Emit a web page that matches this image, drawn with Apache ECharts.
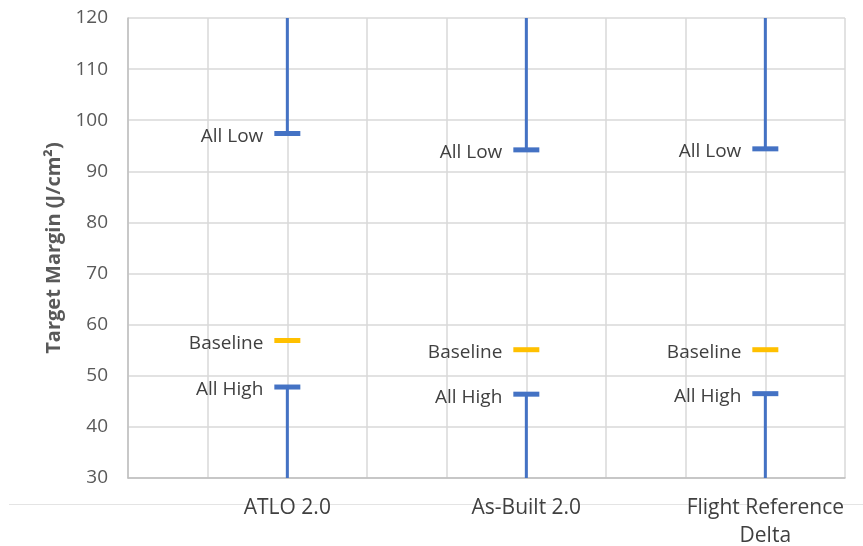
<!DOCTYPE html>
<html>
<head>
<meta charset="utf-8">
<script src="https://cdn.jsdelivr.net/npm/echarts@6/dist/echarts.min.js"></script>
<style>
  html, body { margin: 0; padding: 0; background: #ffffff; }
  #chart { width: 863px; height: 546px; }
</style>
</head>
<body>
<div id="chart"></div>
<script>
// Target margin cases per configuration (J/cm²)
var categories = ['ATLO 2.0', 'As-Built 2.0', 'Flight Reference\nDelta'];
var allLow   = [97.4, 94.2, 94.4];
var baseline = [56.9, 55.1, 55.1];
var allHigh  = [47.8, 46.4, 46.5];
var yTicks = { min: 30, max: 120, step: 10 };

// each configuration sits in the middle of a three-slot band on the x scale
function slotOf(i) { return 2 + 3 * i; }
function pairs(values) { return values.map(function (v, i) { return [slotOf(i), v]; }); }

var BLUE = '#4472C4';
var GOLD = '#FFC000';
var FONT = '"Open Sans", "Noto Sans", sans-serif';

// vertical stem from a case marker out to the edge of the plot
function stem(direction) {
  return function (params, api) {
    var p = api.coord([api.value(0), api.value(1)]);
    var cs = params.coordSys;
    var yEnd = direction > 0 ? cs.y : cs.y + cs.height;
    return {
      type: 'line',
      shape: { x1: p[0], y1: p[1], x2: p[0], y2: yEnd },
      style: { stroke: BLUE, lineWidth: 3 }
    };
  };
}

function caseMarks(name, values, color) {
  return {
    name: name,
    type: 'scatter',
    data: pairs(values),
    symbol: 'rect',
    symbolSize: [26, 5],
    itemStyle: { color: color, opacity: 1 },
    label: {
      show: true,
      position: 'left',
      distance: 11,
      offset: [0, 3],
      formatter: name,
      color: '#404040',
      fontFamily: FONT,
      fontSize: 19
    },
    z: 5,
    silent: true
  };
}

var chart = echarts.init(document.getElementById('chart'), null, { renderer: 'canvas' });
chart.setOption({
  animation: false,
  backgroundColor: '#ffffff',
  grid: { left: 128, right: 18, top: 18, bottom: 68, containLabel: false, outerBoundsMode: 'none' },
  xAxis: {
    type: 'value',
    min: 0,
    max: 3 * categories.length,
    interval: 1,
    axisLine: { show: true, lineStyle: { color: '#bfbfbf', width: 1.5 } },
    axisTick: { show: false },
    splitLine: { show: true, lineStyle: { color: '#d9d9d9', width: 1.5 } },
    axisLabel: {
      margin: 16,
      color: '#404040',
      fontFamily: FONT,
      fontSize: 21,
      lineHeight: 28,
      showMinLabel: true,
      showMaxLabel: true,
      formatter: function (v) {
        var i = (v - 2) / 3;
        return (i === Math.round(i) && i >= 0 && i < categories.length) ? categories[i] : '';
      }
    }
  },
  yAxis: {
    type: 'value',
    min: yTicks.min,
    max: yTicks.max,
    interval: yTicks.step,
    name: 'Target Margin (J/cm²)',
    nameLocation: 'middle',
    nameGap: 59,
    nameTextStyle: { color: '#595959', fontFamily: FONT, fontSize: 20, fontWeight: 'bold' },
    axisLine: { show: true, lineStyle: { color: '#bfbfbf', width: 1.5 } },
    axisTick: { show: false },
    splitLine: { show: true, lineStyle: { color: '#d9d9d9', width: 1.5 } },
    axisLabel: { margin: 20, color: '#595959', fontFamily: FONT, fontSize: 19 }
  },
  graphic: [{
    type: 'line',
    shape: { x1: 9, y1: 504.5, x2: 863, y2: 504.5 },
    style: { stroke: '#e4e4e4', lineWidth: 1 },
    z: -1,
    silent: true
  }],
  series: [
    { type: 'custom', name: 'low stem', data: pairs(allLow), renderItem: stem(1), z: 4, silent: true },
    { type: 'custom', name: 'high stem', data: pairs(allHigh), renderItem: stem(-1), z: 4, silent: true },
    caseMarks('All Low', allLow, BLUE),
    caseMarks('Baseline', baseline, GOLD),
    caseMarks('All High', allHigh, BLUE)
  ]
});
</script>
</body>
</html>
